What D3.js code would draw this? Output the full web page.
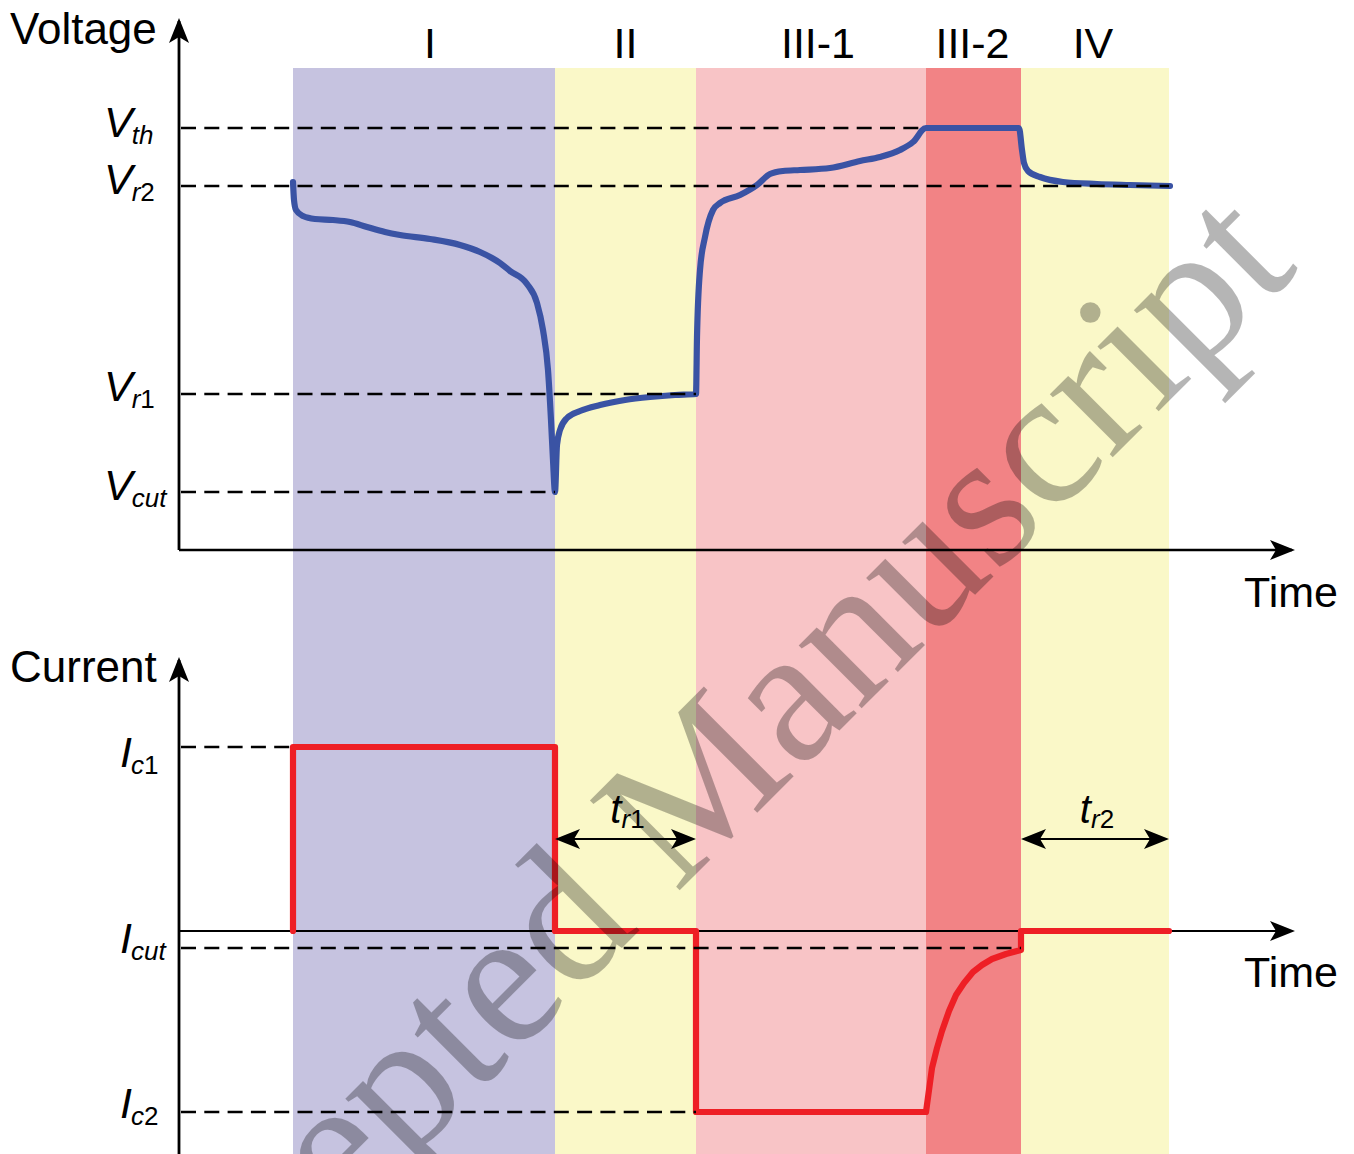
<!DOCTYPE html>
<html>
<head>
<meta charset="utf-8">
<script src="https://cdn.jsdelivr.net/npm/d3@7"></script>
<style>
  body { margin: 0; background: #fff; }
  svg { display: block; }
  text { font-family: Arial, "Liberation Sans", sans-serif; }
</style>
</head>
<body>
<script>
const w = 1354;
const h = 1154;

// phases (time in arbitrary units)
const phaseNames = ["I", "II", "III-1", "III-2", "IV"];
const phaseEdges = [114, 376, 517, 747, 842, 990];
const phaseColors = ["#c6c3e0", "#faf8c8", "#f8c4c6", "#f28385", "#faf8c8"];

// reference levels: value and the time where the dashed guide stops
const voltageLevels = [
  { main: "V", sub: "th", value: 422, until: 747 },
  { main: "V", sub: "r2", value: 364, until: 990 },
  { main: "V", sub: "r1", value: 156, until: 517 },
  { main: "V", sub: "cut", value: 58, until: 376 }
];
const currentLevels = [
  { main: "I", sub: "c1", value: 184, until: 114 },
  { main: "I", sub: "cut", value: -17, until: 842 },
  { main: "I", sub: "c2", value: -181, until: 517 }
];

// [time, voltage]
const voltageCurve = [
  [114, 368], [115, 350], [117, 340], [124, 334], [136, 331], [154, 330], [171, 328],
  [188, 323], [206, 318], [221, 315], [251, 311], [281, 305], [301, 298], [313, 292],
  [321, 287], [331, 279], [348, 266], [358, 247], [364, 220], [369, 180], [372, 130],
  [374, 90], [376, 58],
  [378, 105], [381, 120], [388, 132], [401, 139], [421, 145], [446, 150], [471, 153],
  [496, 155], [517, 156],
  [518, 213], [521, 280], [526, 313], [534, 340], [541, 347], [561, 355], [578, 365],
  [591, 376], [604, 379], [621, 380], [651, 382], [681, 389], [701, 393], [721, 400],
  [734, 408], [747, 422],
  [840, 422],
  [843, 400], [845, 387], [849, 379], [861, 373], [884, 368], [918, 366], [951, 365],
  [991, 364]
];

// [time, current]
const currentCurve = [
  [114, 0], [114, 184], [376, 184], [376, 0], [517, 0], [517, -181], [747, -181],
  [750, -159], [753, -137], [758, -117], [763, -100], [770, -80], [777, -64], [785, -52],
  [794, -41], [803, -34], [813, -28], [827, -23], [842, -19],
  [842, 0], [990, 0]
];

// rest periods marked with double arrows
const restSpans = [
  { sub: "r1", from: 376, to: 517 },
  { sub: "r2", from: 842, to: 990 }
];

const x = d3.scaleLinear().domain([0, 1116]).range([179, 1295]);
const yV = d3.scaleLinear().domain([0, 532]).range([550, 18]);
const yI = d3.scaleLinear().domain([-223, 274]).range([1154, 657]);

const svg = d3.select("body").append("svg").attr("width", w).attr("height", h);

// arrow head
const defs = svg.append("defs");
defs.append("marker")
  .attr("id", "arrow")
  .attr("viewBox", "-27 -11 30 22")
  .attr("markerUnits", "userSpaceOnUse")
  .attr("markerWidth", 30)
  .attr("markerHeight", 22)
  .attr("refX", -3)
  .attr("refY", 0)
  .attr("orient", "auto-start-reverse")
  .append("path")
  .attr("d", "M0,0L-25,-10L-19,0L-25,10Z")
  .attr("fill", "#000");

// phase bands
svg.selectAll("rect.band")
  .data(phaseNames)
  .enter()
  .append("rect")
  .attr("class", "band")
  .attr("x", (d, i) => x(phaseEdges[i]))
  .attr("y", 68)
  .attr("width", (d, i) => x(phaseEdges[i + 1]) - x(phaseEdges[i]))
  .attr("height", h - 68)
  .attr("fill", (d, i) => phaseColors[i]);

const phaseShift = [6, 0, 7, -1, -2];
svg.selectAll("text.phase")
  .data(phaseNames)
  .enter()
  .append("text")
  .attr("class", "phase")
  .attr("x", (d, i) => (x(phaseEdges[i]) + x(phaseEdges[i + 1])) / 2 + phaseShift[i])
  .attr("y", 58)
  .attr("text-anchor", "middle")
  .style("font-size", "43px")
  .text(d => d);

// axes
function axisLine(x1, y1, x2, y2, sw) {
  svg.append("line")
    .attr("x1", x1).attr("y1", y1).attr("x2", x2).attr("y2", y2)
    .attr("stroke", "#000")
    .attr("stroke-width", sw)
    .attr("marker-end", "url(#arrow)");
}
axisLine(x(0), yV(0), x(0), yV.range()[1] + 3, 2.8);
axisLine(x(0), yV(0), x.range()[1] - 3, yV(0), 2.5);
axisLine(x(0), yI.range()[0], x(0), yI.range()[1] + 3, 2.8);
axisLine(x(0), yI(0), x.range()[1] - 3, yI(0), 2.2);

// axis titles
svg.append("text").attr("x", 10).attr("y", 44).style("font-size", "44px").text("Voltage");
svg.append("text").attr("x", 10).attr("y", 682).style("font-size", "44px").text("Current");
svg.append("text").attr("x", 1244).attr("y", 607).style("font-size", "43px").text("Time");
svg.append("text").attr("x", 1244).attr("y", 987).style("font-size", "43px").text("Time");

// curves
const lineV = d3.line()
  .x(d => x(d[0]))
  .y(d => yV(d[1]))
  .curve(d3.curveMonotoneX);

svg.append("path")
  .datum(voltageCurve)
  .attr("d", lineV)
  .attr("fill", "none")
  .attr("stroke", "#3a53a4")
  .attr("stroke-width", 6.2)
  .attr("stroke-linecap", "round")
  .attr("stroke-linejoin", "round");

const lineI = d3.line()
  .x(d => x(d[0]))
  .y(d => yI(d[1]));

svg.append("path")
  .datum(currentCurve)
  .attr("d", lineI)
  .attr("fill", "none")
  .attr("stroke", "#ee1f25")
  .attr("stroke-width", 6.2)
  .attr("stroke-linecap", "round")
  .attr("stroke-linejoin", "round");

// dashed guides + labels
const vDy = [9, 8, 7, 8];
const iDy = [20, 5, 6];

function levels(data, yScale, labelX, dys) {
  svg.selectAll(null)
    .data(data)
    .enter()
    .append("line")
    .attr("x1", x(0) + 2)
    .attr("x2", d => x(d.until))
    .attr("y1", d => yScale(d.value))
    .attr("y2", d => yScale(d.value))
    .attr("stroke", "#000")
    .attr("stroke-width", 2.5)
    .attr("stroke-dasharray", "15,8.3");

  const t = svg.selectAll(null)
    .data(data)
    .enter()
    .append("text")
    .attr("x", labelX)
    .attr("y", (d, i) => yScale(d.value) + dys[i])
    .style("font-size", "43px");
  t.append("tspan").style("font-style", "italic").text(d => d.main);
  t.each(function (d) {
    const el = d3.select(this);
    d.sub.split("").forEach((c, k) => {
      el.append("tspan")
        .attr("dx", k === 0 ? -1 : null)
        .attr("dy", k === 0 ? 7 : null)
        .style("font-size", "26px")
        .style("font-style", /[0-9]/.test(c) ? "normal" : "italic")
        .text(c);
    });
  });
}
levels(voltageLevels, yV, 104, vDy);
levels(currentLevels, yI, 120, iDy);

// rest period arrows
svg.selectAll(null)
  .data(restSpans)
  .enter()
  .append("line")
  .attr("x1", d => x(d.from) + 3)
  .attr("x2", d => x(d.to) - 3)
  .attr("y1", 839)
  .attr("y2", 839)
  .attr("stroke", "#000")
  .attr("stroke-width", 2.2)
  .attr("marker-start", "url(#arrow)")
  .attr("marker-end", "url(#arrow)");

const rt = svg.selectAll(null)
  .data(restSpans)
  .enter()
  .append("text")
  .attr("x", d => (x(d.from) + x(d.to)) / 2 + 2)
  .attr("y", 823)
  .attr("text-anchor", "middle")
  .style("font-size", "40px");
rt.append("tspan").style("font-style", "italic").text("t");
rt.append("tspan").attr("dy", 5).style("font-size", "26px").style("font-style", "italic").text(d => d.sub[0]);
rt.append("tspan").style("font-size", "26px").text(d => d.sub.slice(1));

// watermark
svg.append("text")
  .attr("transform", "translate(712,858) rotate(-45)")
  .attr("text-anchor", "middle")
  .style("font-family", "'Times New Roman', 'Liberation Serif', serif")
  .style("font-size", "194px")
  .attr("fill", "#000")
  .attr("fill-opacity", 0.29)
  .text("Accepted Manuscript");
</script>
</body>
</html>
